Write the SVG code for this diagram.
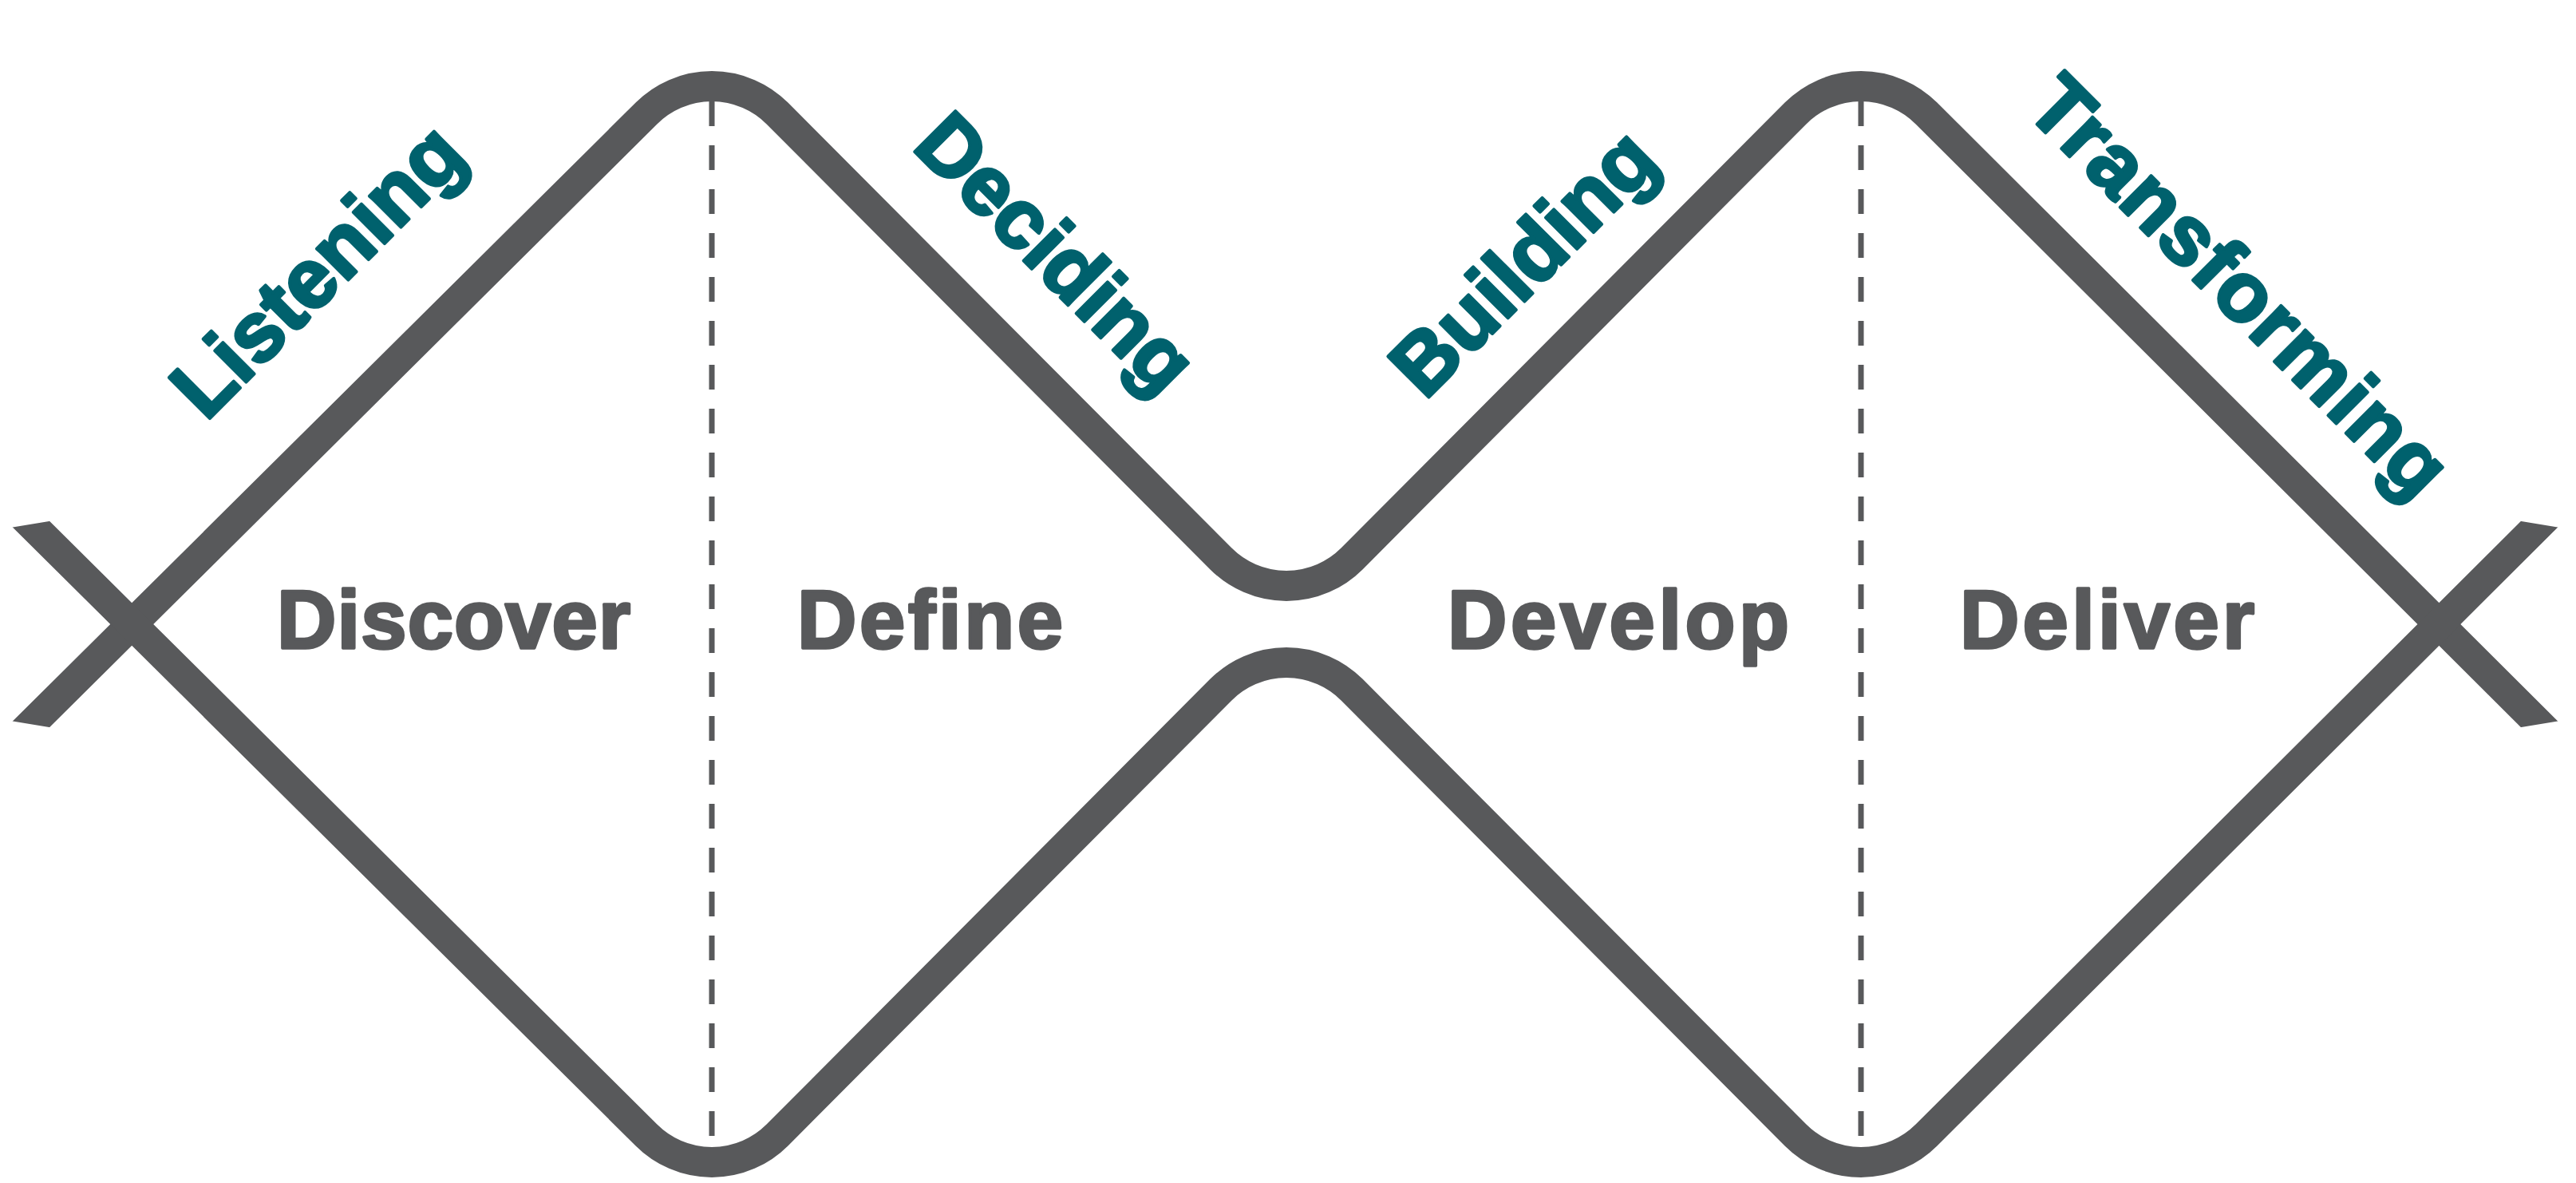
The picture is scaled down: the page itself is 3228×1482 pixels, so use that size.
<svg xmlns="http://www.w3.org/2000/svg" width="3228" height="1482" viewBox="0 0 3228 1482">
  <defs>
    <style>
      .curve { fill: none; stroke: #58595b; stroke-width: 38; stroke-linejoin: round; }
      .divider { fill: none; stroke: #58595b; stroke-width: 7; stroke-dasharray: 31 24; }
      .phase { font-family: "Liberation Sans", Arial, sans-serif; font-weight: bold; font-size: 103px; fill: #58595b; stroke: #58595b; stroke-width: 3.5; stroke-linejoin: round; }
      .mode { font-family: "Liberation Sans", Arial, sans-serif; font-weight: bold; font-size: 105px; fill: #00616d; stroke: #00616d; stroke-width: 4; stroke-linejoin: round; text-anchor: middle; }
    </style>
    <clipPath id="ends">
      <polygon points="110,0 3111,0 3111,645 3208,661 3208,903 3111,919 3111,1482 110,1482 110,919 13,903 13,661 110,645"/>
    </clipPath>
  </defs>
  <rect width="3228" height="1482" fill="#ffffff"/>

  <g id="connectors">
    <g clip-path="url(#ends)">
      <path id="upper-line" class="curve" d="M 0 946 L 810 142 A 116 116 0 0 1 974 142 L 1530 700 A 116 116 0 0 0 1694 700 L 2250 142 A 116 116 0 0 1 2414 142 L 3228 953"/>
      <path id="lower-line" class="curve" d="M 0 618 L 810 1422 A 116 116 0 0 0 974 1422 L 1530 864 A 116 116 0 0 1 1694 864 L 2250 1422 A 116 116 0 0 0 2414 1422 L 3228 611"/>
    </g>
    <line id="divider-1" class="divider" x1="892" y1="127" x2="892" y2="1440"/>
    <line id="divider-2" class="divider" x1="2332" y1="127" x2="2332" y2="1440"/>
  </g>

  <g id="discover"><text class="phase" x="347" y="812" textLength="443" lengthAdjust="spacing">Discover</text></g>
  <g id="define"><text class="phase" x="999" y="812" textLength="333" lengthAdjust="spacing">Define</text></g>
  <g id="develop"><text class="phase" x="1814" y="812" textLength="428" lengthAdjust="spacing">Develop</text></g>
  <g id="deliver"><text class="phase" x="2456" y="812" textLength="369" lengthAdjust="spacing">Deliver</text></g>

  <g id="listening"><text class="mode" transform="translate(423,364) rotate(-45)" x="0" y="0">Listening</text></g>
  <g id="deciding"><text class="mode" transform="translate(1298,342) rotate(45)" x="0" y="0">Deciding</text></g>
  <g id="building"><text class="mode" transform="translate(1934,354) rotate(-45)" x="0" y="0">Building</text></g>
  <g id="transforming"><text class="mode" transform="translate(2781,384) rotate(45)" x="0" y="0" textLength="695" lengthAdjust="spacing">Transforming</text></g>
</svg>
